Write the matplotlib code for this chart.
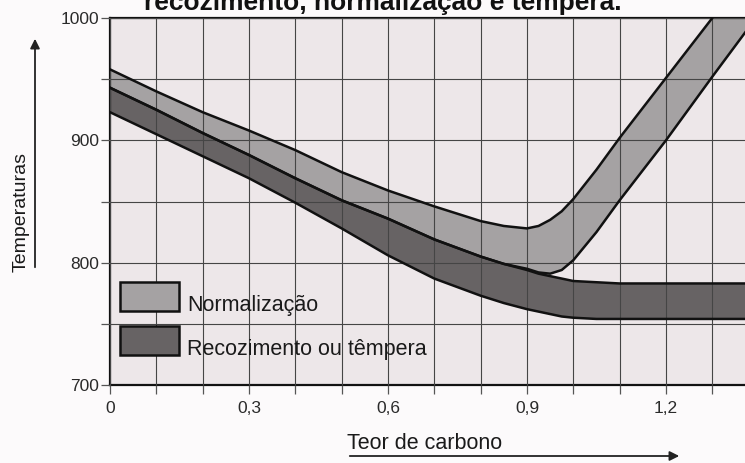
import matplotlib
matplotlib.use("Agg")
import matplotlib.pyplot as plt
from matplotlib.patches import Rectangle, FancyArrowPatch
from matplotlib.ticker import MultipleLocator, FixedLocator

plt.rcParams['font.family'] = ['Liberation Sans', 'DejaVu Sans']

# teor de carbono (%)
carbon = [0, 0.1, 0.2, 0.3, 0.4, 0.5, 0.6, 0.7, 0.8, 0.85, 0.9, 0.925, 0.95,
          0.975, 1.0, 1.05, 1.1, 1.2, 1.3, 1.4]

# faixa de normalizacao (limite superior / inferior)
norm_top = [958, 940, 923, 908, 892, 874, 859, 846, 834, 830, 828, 830, 835,
            842, 852, 876, 902, 951, 1000, 1050]
norm_bot = [943, 925, 906, 888, 869, 851, 836, 819, 805, 799, 795, 792, 791,
            794, 802, 825, 851, 900, 952, 1003]

# faixa de recozimento ou tempera
rec_top = [943, 925, 906, 888, 869, 851, 836, 819, 805, 799, 794, 791, 789,
           787, 785, 784, 783, 783, 783, 783]
rec_bot = [923, 905, 887, 869, 849, 828, 806, 787, 773, 767, 762, 760, 758,
           756, 755, 754, 754, 754, 754, 754]

x_labels = ['0', '0,3', '0,6', '0,9', '1,2']
x_label_pos = [0, 0.3, 0.6, 0.9, 1.2]
y_labels = [700, 800, 900, 1000]

light = '#a5a2a3'
dark = '#676364'
paper = '#ede7e9'

fig = plt.figure(figsize=(7.45, 4.63), dpi=100)
fig.patch.set_facecolor('#fcfafb')
ax = fig.add_axes([110 / 745, 78 / 463, 1 - 110 / 745, (385 - 18) / 463])
ax.set_facecolor(paper)

ax.fill_between(carbon, rec_bot, rec_top, color=dark, zorder=1, lw=0)
ax.fill_between(carbon, norm_bot, norm_top, color=light, zorder=1.2, lw=0)
for ys in (rec_bot, rec_top):
    ax.plot(carbon, ys, color='#111111', lw=1.8, zorder=3, solid_joinstyle='round')
for ys in (norm_bot, norm_top):
    ax.plot(carbon, ys, color='#111111', lw=1.8, zorder=3.1, solid_joinstyle='round')

ax.set_xlim(0, 635 / 463.3)
ax.set_ylim(700, 1000)

# grade
ax.xaxis.set_major_locator(FixedLocator(x_label_pos))
ax.xaxis.set_minor_locator(MultipleLocator(0.1))
ax.set_xticklabels(x_labels)
ax.yaxis.set_major_locator(FixedLocator(y_labels))
ax.yaxis.set_minor_locator(MultipleLocator(50))
ax.set_yticklabels([str(v) for v in y_labels])
ax.set_axisbelow(False)
ax.grid(True, which='both', color='#454545', lw=0.8, zorder=2.5)

ax.tick_params(which='both', direction='out', length=6.5, width=0.9,
               color='#555555')
ax.tick_params(axis='x', labelsize=12.5, pad=5, labelcolor='#2a2a2a')
ax.tick_params(axis='y', labelsize=12.5, pad=1.5, labelcolor='#2a2a2a')

for side in ('left', 'bottom', 'top'):
    ax.spines[side].set_linewidth(1.6)
    ax.spines[side].set_color('#111111')
ax.spines['right'].set_visible(False)

# legenda
legend_items = [('Normalização', light, 282), ('Recozimento ou têmpera', dark, 326)]
for label, col, ytop in legend_items:
    fig.patches.append(Rectangle((120 / 745, 1 - (ytop + 29) / 463), 59 / 745, 29 / 463,
                                 transform=fig.transFigure, facecolor=col,
                                 edgecolor='#111111', lw=1.8, zorder=5))
    fig.text(187 / 745, 1 - (ytop + 29) / 463, label, fontsize=15.5,
             color='#1a1a1a', va='baseline', ha='left', zorder=6)

# titulo (cortado na foto)
fig.text(383 / 745, 1 - 10 / 463, 'recozimento, normalização e têmpera.',
         fontsize=19, fontweight='bold', ha='center', va='baseline', color='#111111')

# rotulos dos eixos com setas
fig.text(21 / 745, 1 - 212 / 463, 'Temperaturas', rotation=90, fontsize=14,
         ha='center', va='center', color='#1a1a1a')
fig.patches.append(FancyArrowPatch((35 / 745, 1 - 270 / 463), (35 / 745, 1 - 36 / 463),
                                   transform=fig.transFigure, arrowstyle='-|>',
                                   mutation_scale=14, lw=1.3, color='#222222'))
fig.text(347 / 745, 1 - 449 / 463, 'Teor de carbono', fontsize=15.5,
         ha='left', va='baseline', color='#1a1a1a')
fig.patches.append(FancyArrowPatch((347 / 745, 1 - 456 / 463), (682 / 745, 1 - 456 / 463),
                                   transform=fig.transFigure, arrowstyle='-|>',
                                   mutation_scale=14, lw=1.3, color='#222222'))

fig.savefig('out.png', dpi=100, facecolor=fig.get_facecolor())
